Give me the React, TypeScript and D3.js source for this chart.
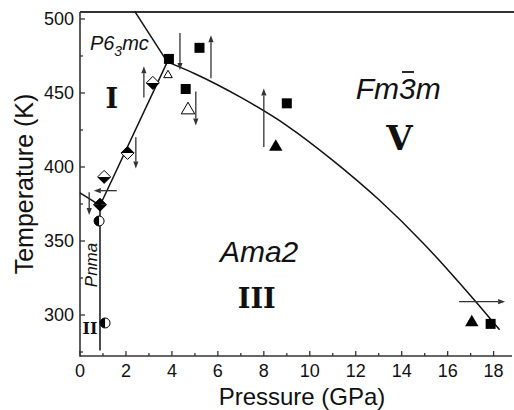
import React from 'react';
import * as d3 from 'd3';

const W = 514;
const H = 410;

const xTicks = [0, 2, 4, 6, 8, 10, 12, 14, 16, 18];
const xMinor = [1, 3, 5, 7, 9, 11, 13, 15, 17];
const yTicks = [300, 350, 400, 450, 500];
const yMinor = [275, 325, 375, 425, 475];

// phase boundaries [P (GPa), T (K)]
const boundaryI_II: [number, number][] = [[0, 382.5], [0.87, 374]];
const boundaryII_III: [number, number][] = [[0.87, 374], [0.87, 276]];
const boundaryI_III: [number, number][] = [[0.87, 374], [3.8, 471]];
const boundaryI_V: [number, number][] = [[3.8, 471], [2.39, 505]];
const boundaryIII_V: [number, number][] = [
  [3.8, 471], [5, 463], [7, 447], [9, 428], [11, 404.5], [13, 378], [15, 347.5], [17, 313], [18.26, 290],
];

// markers
const filledSquares: [number, number][] = [[3.87, 473], [4.6, 452.7], [5.2, 480.5], [9.0, 443], [17.87, 294]];
const filledTriangles: [number, number][] = [[8.52, 413.5], [17.05, 295]];
const openTriangles: [number, number][] = [[4.7, 438.5]];
const openTrianglesSmall: [number, number][] = [[3.83, 462]];
const diamondsTopWhite: [number, number][] = [[3.17, 456.8], [1.05, 393.3]];
const diamondsTopBlack: [number, number][] = [[2.07, 409.5]];
const diamondsFull: [number, number][] = [[0.87, 374.5]];
const halfCircles: [number, number][] = [[0.83, 363.5], [1.09, 294.6]];

// arrows [P from, T from, P to, T to]
const arrows: [number, number, number, number][] = [
  [4.35, 490.5, 4.35, 465.5],
  [5.7, 460, 5.7, 489],
  [2.78, 447, 2.78, 468],
  [2.43, 420, 2.43, 399],
  [5.04, 451, 5.04, 428],
  [8.0, 413.5, 8.0, 453],
  [1.6, 384, 0.6, 384],
  [0.4, 383, 0.4, 367.5],
  [16.5, 309, 18.5, 309],
];

const SANS = '"Liberation Sans", Arial, sans-serif';
const SERIF = '"DejaVu Serif", serif';

export default function App() {
  const x = d3.scaleLinear().domain([0, 18.8]).range([80, 512]);
  const y = d3.scaleLinear().domain([272.3, 504.7]).range([356, 12]);

  const line = d3.line<[number, number]>().x(d => x(d[0])).y(d => y(d[1]));
  const curve = d3
    .line<[number, number]>()
    .x(d => x(d[0]))
    .y(d => y(d[1]))
    .curve(d3.curveMonotoneX);

  const sq = d3.symbol().type(d3.symbolSquare).size(100)();
  const tri = d3.symbol().type(d3.symbolTriangle).size(78)();
  const triSmall = d3.symbol().type(d3.symbolTriangle).size(32)();

  const r = 6.5;
  const diamond = (cx: number, cy: number, topFill: string, botFill: string, key: string) => (
    <g key={key}>
      <path d={`M${cx - r},${cy}L${cx},${cy - r}L${cx + r},${cy}Z`} fill={topFill} />
      <path d={`M${cx - r},${cy}L${cx},${cy + r}L${cx + r},${cy}Z`} fill={botFill} />
      <path d={`M${cx - r},${cy}L${cx},${cy - r}L${cx + r},${cy}L${cx},${cy + r}Z`} fill="none" stroke="#000" strokeWidth={1} />
    </g>
  );

  const arrow = (a: [number, number, number, number], i: number) => {
    const x1 = x(a[0]), y1 = y(a[1]), x2 = x(a[2]), y2 = y(a[3]);
    const ang = Math.atan2(y2 - y1, x2 - x1);
    const L = 7, hw = 2.6;
    const bx = x2 - L * Math.cos(ang), by = y2 - L * Math.sin(ang);
    const px = -Math.sin(ang) * hw, py = Math.cos(ang) * hw;
    return (
      <g key={'a' + i}>
        <line x1={x1} y1={y1} x2={bx} y2={by} stroke="#333" strokeWidth={1.3} />
        <path d={`M${x2},${y2}L${bx + px},${by + py}L${bx - px},${by - py}Z`} fill="#333" />
      </g>
    );
  };

  const x0 = x.range()[0];
  const y0 = y.range()[0];

  return (
    <svg width={W} height={H} style={{ position: 'absolute', left: 0, top: 0, background: '#fff' }}>
      {/* axes */}
      <line x1={x0} y1={y(504.7)} x2={x0} y2={y0 + 0.8} stroke="#333" strokeWidth={1.6} />
      <line x1={x0} y1={y0} x2={512} y2={y0} stroke="#333" strokeWidth={1.6} />
      <line x1={x0} y1={y(504.7)} x2={W} y2={y(504.7)} stroke="#333" strokeWidth={1.8} />
      {xTicks.map(t => (
        <g key={'xt' + t}>
          <line x1={x(t)} x2={x(t)} y1={y0} y2={y0 - 5} stroke="#333" strokeWidth={1.3} />
          <text x={x(t)} y={y0 + 21} textAnchor="middle" fontFamily={SANS} fontSize={18} fill="#111">{t}</text>
        </g>
      ))}
      {xMinor.map(t => (
        <line key={'xm' + t} x1={x(t)} x2={x(t)} y1={y0} y2={y0 - 3} stroke="#333" strokeWidth={1.3} />
      ))}
      {yTicks.map(t => (
        <g key={'yt' + t}>
          <line x1={x0} x2={x0 + 5} y1={y(t)} y2={y(t)} stroke="#333" strokeWidth={1.3} />
          <text x={x0 - 6} y={y(t) + 6} textAnchor="end" fontFamily={SANS} fontSize={18} fill="#111">{t}</text>
        </g>
      ))}
      {yMinor.map(t => (
        <line key={'ym' + t} x1={x0} x2={x0 + 3} y1={y(t)} y2={y(t)} stroke="#333" strokeWidth={1.3} />
      ))}
      <text x={302} y={405} textAnchor="middle" fontFamily={SANS} fontSize={24} fill="#111">Pressure (GPa)</text>
      <text transform={`translate(33,${(y(504.7) + y0) / 2}) rotate(-90)`} textAnchor="middle" fontFamily={SANS} fontSize={25} fill="#111">Temperature (K)</text>

      {/* boundaries */}
      <path d={line(boundaryI_II) || ''} fill="none" stroke="#111" strokeWidth={1.5} />
      <path d={line(boundaryII_III) || ''} fill="none" stroke="#111" strokeWidth={1.5} />
      <path d={line(boundaryI_III) || ''} fill="none" stroke="#111" strokeWidth={1.5} />
      <path d={line(boundaryI_V) || ''} fill="none" stroke="#111" strokeWidth={1.5} />
      <path d={curve(boundaryIII_V) || ''} fill="none" stroke="#111" strokeWidth={1.5} />

      {/* arrows */}
      {arrows.map(arrow)}

      {/* markers */}
      {filledSquares.map((d, i) => (
        <path key={'s' + i} d={sq || ''} transform={`translate(${x(d[0])},${y(d[1])})`} fill="#000" />
      ))}
      {filledTriangles.map((d, i) => (
        <path key={'t' + i} d={tri || ''} transform={`translate(${x(d[0])},${y(d[1])})`} fill="#000" />
      ))}
      {openTriangles.map((d, i) => (
        <path key={'ot' + i} d={tri || ''} transform={`translate(${x(d[0])},${y(d[1])})`} fill="#fff" stroke="#000" strokeWidth={1} />
      ))}
      {openTrianglesSmall.map((d, i) => (
        <path key={'ots' + i} d={triSmall || ''} transform={`translate(${x(d[0])},${y(d[1])})`} fill="#fff" stroke="#000" strokeWidth={1} />
      ))}
      {diamondsTopWhite.map((d, i) => diamond(x(d[0]), y(d[1]), '#fff', '#000', 'dw' + i))}
      {diamondsTopBlack.map((d, i) => diamond(x(d[0]), y(d[1]), '#000', '#fff', 'db' + i))}
      {diamondsFull.map((d, i) => diamond(x(d[0]), y(d[1]), '#000', '#000', 'df' + i))}
      {halfCircles.map((d, i) => {
        const cx = x(d[0]), cy = y(d[1]), rr = 5;
        return (
          <g key={'c' + i}>
            <circle cx={cx} cy={cy} r={rr} fill="#fff" stroke="#000" strokeWidth={1} />
            <path d={`M${cx},${cy - rr}A${rr},${rr} 0 0 0 ${cx},${cy + rr}Z`} fill="#000" />
          </g>
        );
      })}

      {/* labels */}
      <text x={x(0.43)} y={y(479)} fontFamily={SANS} fontStyle="italic" fontSize={20} fill="#111">
        P6<tspan fontSize={14} dy={6}>3</tspan><tspan dy={-6}>mc</tspan>
      </text>
      <text x={x(1.39)} y={y(439.8)} textAnchor="middle" fontFamily={SERIF} fontWeight="bold" fontSize={27} fill="#111">I</text>
      <text x={x(12.0)} y={y(445.9)} fontFamily={SANS} fontStyle="italic" fontSize={30} fill="#111">Fm3m</text>
      <line x1={402} x2={414} y1={72} y2={72} stroke="#111" strokeWidth={1.8} />
      <text x={x(13.9)} y={y(411.5)} textAnchor="middle" fontFamily={SERIF} fontWeight="bold" fontSize={34} fill="#111">V</text>
      <text x={x(6.09)} y={y(335.8)} fontFamily={SANS} fontStyle="italic" fontSize={30} fill="#111">Ama2</text>
      <text x={x(6.87)} y={y(304.7)} fontFamily={SERIF} fontWeight="bold" fontSize={27} fill="#111">III</text>
      <text x={x(0.43)} y={y(287.2)} textAnchor="middle" fontFamily={SERIF} fontWeight="bold" fontSize={16} fill="#111">II</text>
      <text transform={`translate(${x(0.74)},${y(333.8)}) rotate(-90)`} textAnchor="middle" fontFamily={SANS} fontStyle="italic" fontSize={17} fill="#111">Pnma</text>
    </svg>
  );
}
